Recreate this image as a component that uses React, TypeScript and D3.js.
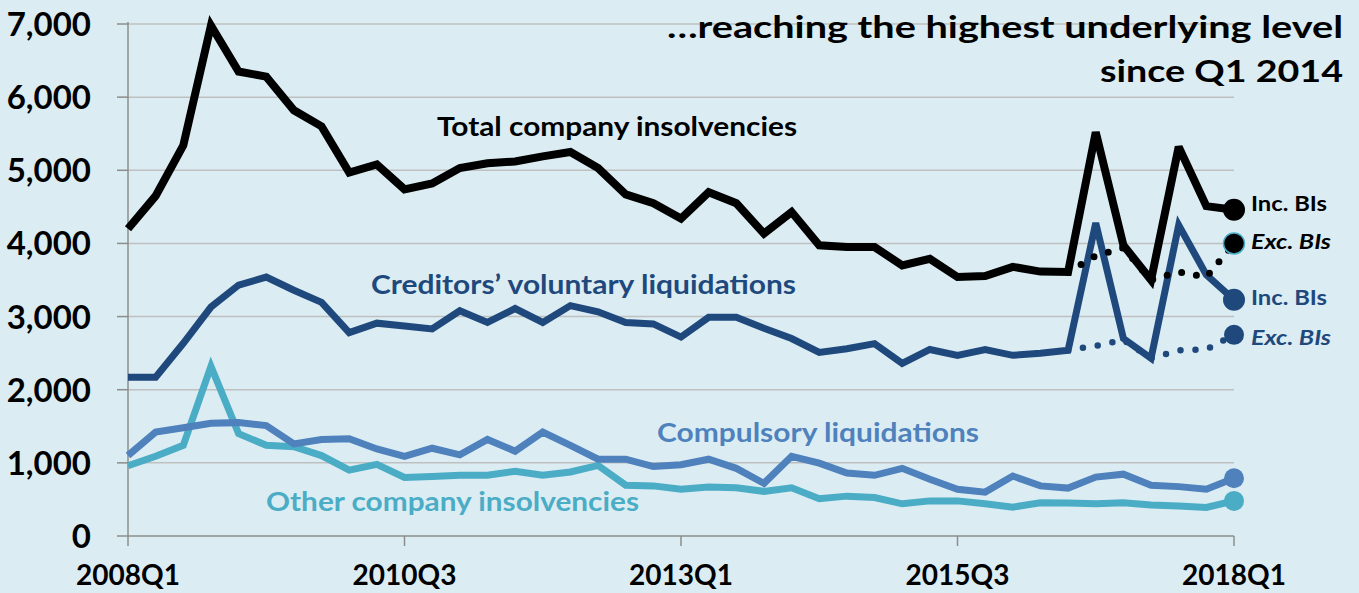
import React, { useEffect, useRef } from 'react';
import * as d3 from 'd3';

// quarters 2008Q1 .. 2018Q1
const quarters: string[] = [];
for (let y = 2008; y <= 2018; y++) {
  for (let q = 1; q <= 4; q++) {
    if (y === 2018 && q > 1) break;
    quarters.push(y + 'Q' + q);
  }
}

const xTickLabels = ['2008Q1', '2010Q3', '2013Q1', '2015Q3', '2018Q1'];
const yTicks = [0, 1000, 2000, 3000, 4000, 5000, 6000, 7000];

const total = [4200, 4650, 5340, 6980, 6350, 6280, 5820, 5600, 4970, 5080, 4740, 4820, 5030, 5095, 5120, 5190, 5250, 5030, 4670, 4550, 4340, 4700, 4550, 4135, 4430, 3975, 3950, 3950, 3700, 3790, 3540, 3555, 3680, 3615, 3610, 5520, 3975, 3500, 5320, 4510, 4460];
const cvl = [2170, 2170, 2635, 3130, 3430, 3540, 3360, 3195, 2780, 2910, 2870, 2830, 3080, 2920, 3110, 2920, 3150, 3065, 2920, 2900, 2720, 2990, 2990, 2840, 2700, 2510, 2560, 2630, 2360, 2550, 2470, 2550, 2470, 2500, 2540, 4280, 2700, 2430, 4250, 3570, 3230];
const compulsory = [1100, 1420, 1480, 1540, 1550, 1510, 1260, 1320, 1330, 1190, 1090, 1200, 1110, 1320, 1160, 1420, 1240, 1050, 1050, 950, 975, 1050, 925, 720, 1090, 995, 860, 830, 925, 775, 640, 600, 820, 685, 655, 805, 845, 695, 675, 640, 790];
const other = [960, 1090, 1240, 2320, 1400, 1240, 1220, 1100, 900, 980, 800, 815, 830, 830, 885, 830, 875, 965, 695, 685, 640, 670, 660, 610, 660, 510, 545, 525, 440, 480, 480, 440, 395, 455, 450, 440, 455, 425, 410, 390, 480];

// excluding BIs, from 2016Q3 (index 34) to 2018Q1
const excStart = 34;
const totalExc = [3610, 3830, 3940, 3500, 3610, 3540, 4000];
const cvlExc = [2540, 2600, 2680, 2430, 2540, 2550, 2750];

const BG = '#dbedf3';
const C_TOTAL = '#000000';
const C_CVL = '#1f497d';
const C_COMP = '#4f81bd';
const C_OTHER = '#4bacc6';
const FONT = 'Lato, "Open Sans", sans-serif';

export default function App() {
  const ref = useRef<SVGSVGElement>(null);

  useEffect(() => {
    const width = 1359;
    const height = 593;
    const left = 128, right = 1234, top = 24, bottom = 536;

    const svg = d3.select(ref.current);
    svg.selectAll('*').remove();

    svg.append('rect').attr('width', width).attr('height', height).attr('fill', BG);

    const x = d3.scalePoint<string>().domain(quarters).range([left, right]);
    const y = d3.scaleLinear().domain([0, 7000]).range([bottom, top]);

    // gridlines
    svg.append('g')
      .selectAll('line')
      .data(yTicks.filter(d => d > 0))
      .enter()
      .append('line')
      .attr('x1', left).attr('x2', right)
      .attr('y1', d => y(d)).attr('y2', d => y(d))
      .attr('stroke', '#bfbfbf').attr('stroke-width', 1.5);

    // y axis
    const yAxis = svg.append('g');
    yAxis.append('line')
      .attr('x1', left).attr('x2', left).attr('y1', top - 2).attr('y2', bottom)
      .attr('stroke', '#8c8c8c').attr('stroke-width', 1.5);
    yAxis.selectAll('.yt')
      .data(yTicks)
      .enter()
      .append('line')
      .attr('x1', left - 11).attr('x2', left)
      .attr('y1', d => y(d)).attr('y2', d => y(d))
      .attr('stroke', '#8c8c8c').attr('stroke-width', 1.5);
    yAxis.selectAll('text')
      .data(yTicks)
      .enter()
      .append('text')
      .attr('x', 91)
      .attr('y', d => y(d) + 12)
      .attr('text-anchor', 'end')
      .attr('font-family', FONT)
      .attr('font-weight', 700)
      .attr('font-size', 33)
      .attr('fill', '#000')
      .text(d => d3.format(',')(d));

    // x axis
    const xAxis = svg.append('g');
    xAxis.append('line')
      .attr('x1', left).attr('x2', right).attr('y1', bottom).attr('y2', bottom)
      .attr('stroke', '#8c8c8c').attr('stroke-width', 1.5);
    xAxis.selectAll('line.xt')
      .data(xTickLabels)
      .enter()
      .append('line')
      .attr('x1', d => x(d)!).attr('x2', d => x(d)!)
      .attr('y1', bottom).attr('y2', bottom + 10)
      .attr('stroke', '#8c8c8c').attr('stroke-width', 1.5);
    xAxis.selectAll('text')
      .data(xTickLabels)
      .enter()
      .append('text')
      .attr('x', d => x(d)!)
      .attr('y', 585)
      .attr('text-anchor', 'middle')
      .attr('font-family', FONT)
      .attr('font-weight', 700)
      .attr('font-size', 28)
      .attr('fill', '#000')
      .text(d => d);

    const line = d3.line<[number, number]>()
      .x(d => x(quarters[d[0]])!)
      .y(d => y(d[1]));

    const pts = (arr: number[], start = 0) => arr.map((v, i) => [i + start, v] as [number, number]);

    const drawLine = (arr: number[], color: string, w: number, start = 0, dotted = false) => {
      const p = svg.append('path')
        .attr('d', line(pts(arr, start)))
        .attr('fill', 'none')
        .attr('stroke', color)
        .attr('stroke-width', w)
        .attr('stroke-linejoin', 'miter')
        .attr('stroke-miterlimit', 3);
      if (dotted) {
        p.attr('stroke-dasharray', '0 15').attr('stroke-linecap', 'round');
      }
    };

    drawLine(other, C_OTHER, 7);
    drawLine(compulsory, C_COMP, 7);
    drawLine(cvlExc, C_CVL, 6.5, excStart, true);
    drawLine(cvl, C_CVL, 7);
    drawLine(totalExc, C_TOTAL, 7, excStart, true);
    drawLine(total, C_TOTAL, 8);

    // end markers
    const last = quarters.length - 1;
    const markers = [
      { v: other[last], c: C_OTHER, r: 10, s: 'none' },
      { v: compulsory[last], c: C_COMP, r: 10, s: 'none' },
      { v: cvlExc[cvlExc.length - 1], c: C_CVL, r: 10, s: 'none' },
      { v: cvl[last], c: C_CVL, r: 11, s: 'none' },
      { v: totalExc[totalExc.length - 1], c: C_TOTAL, r: 10.5, s: C_OTHER },
      { v: total[last], c: C_TOTAL, r: 11, s: 'none' },
    ];
    svg.append('g')
      .selectAll('circle')
      .data(markers)
      .enter()
      .append('circle')
      .attr('cx', x(quarters[last])!)
      .attr('cy', d => y(d.v))
      .attr('r', d => d.r)
      .attr('fill', d => d.c)
      .attr('stroke', d => d.s)
      .attr('stroke-width', 1.5);

    // series labels
    const labels = [
      { t: 'Total company insolvencies', x: 437, y: 136, w: 360, c: C_TOTAL },
      { t: 'Creditors\u2019 voluntary liquidations', x: 371, y: 294, w: 425, c: C_CVL },
      { t: 'Compulsory liquidations', x: 657, y: 442, w: 322, c: C_COMP },
      { t: 'Other company insolvencies', x: 266, y: 511, w: 373, c: C_OTHER },
    ];
    svg.append('g')
      .selectAll('text')
      .data(labels)
      .enter()
      .append('text')
      .attr('x', d => d.x)
      .attr('y', d => d.y)
      .attr('textLength', d => d.w)
      .attr('lengthAdjust', 'spacingAndGlyphs')
      .attr('font-family', FONT)
      .attr('font-weight', 700)
      .attr('font-size', 26)
      .attr('fill', d => d.c)
      .text(d => d.t);

    // end labels
    const endLabels = [
      { t: 'Inc. BIs', y: 211, c: C_TOTAL, it: false, w: 76 },
      { t: 'Exc. BIs', y: 249, c: C_TOTAL, it: true, w: 80 },
      { t: 'Inc. BIs', y: 305, c: C_CVL, it: false, w: 76 },
      { t: 'Exc. BIs', y: 345, c: C_CVL, it: true, w: 80 },
    ];
    svg.append('g')
      .selectAll('text')
      .data(endLabels)
      .enter()
      .append('text')
      .attr('x', 1251)
      .attr('y', d => d.y)
      .attr('textLength', d => d.w)
      .attr('lengthAdjust', 'spacingAndGlyphs')
      .attr('font-family', FONT)
      .attr('font-weight', 700)
      .attr('font-style', d => (d.it ? 'italic' : 'normal'))
      .attr('font-size', 21)
      .attr('fill', d => d.c)
      .text(d => d.t);

    // title
    const title = svg.append('g')
      .attr('font-family', FONT)
      .attr('font-weight', 700)
      .attr('font-size', 31)
      .attr('fill', '#000')
      .attr('text-anchor', 'end');
    title.append('text')
      .attr('x', 1343).attr('y', 38)
      .attr('textLength', 676).attr('lengthAdjust', 'spacingAndGlyphs')
      .text('\u2026reaching the highest underlying level');
    title.append('text')
      .attr('x', 1343).attr('y', 82)
      .attr('textLength', 243).attr('lengthAdjust', 'spacingAndGlyphs')
      .text('since Q1 2014');
  }, []);

  return (
    <svg
      ref={ref}
      width={1359}
      height={593}
      style={{ position: 'absolute', left: 0, top: 0, display: 'block' }}
    />
  );
}
